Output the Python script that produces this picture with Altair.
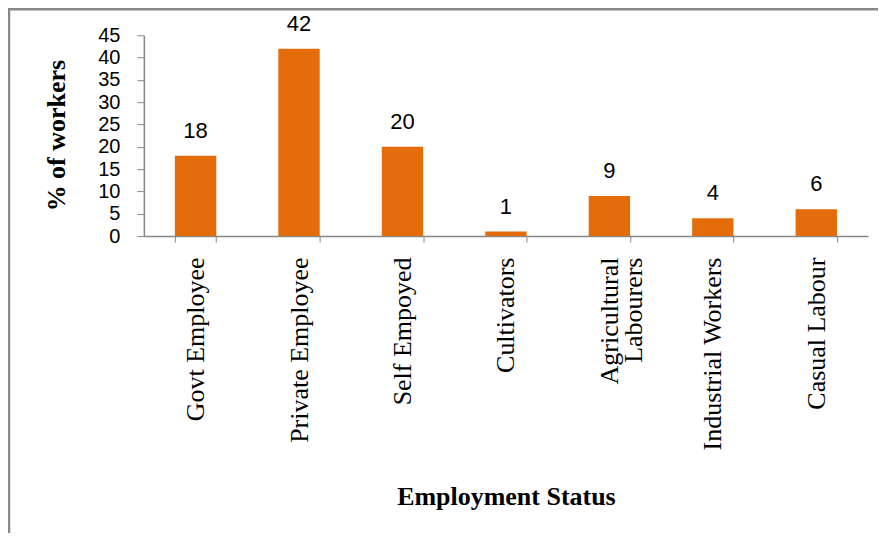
import altair as alt
import pandas as pd

categories = ["Govt Employee", "Private Employee", "Self Empoyed", "Cultivators",
              "Agricultural|Labourers", "Industrial Workers", "Casual Labour"]
values = [18, 42, 20, 1, 9, 4, 6]
y_ticks = [0, 5, 10, 15, 20, 25, 30, 35, 40, 45]

df = pd.DataFrame({"cat": categories, "val": values})

W, H = 725, 201
BAR = "#E46C0A"
GRAY = "#888888"

x = alt.X("cat:N", sort=categories,
          scale=alt.Scale(paddingInner=0.6, paddingOuter=0.3),
          axis=alt.Axis(title="Employment Status", labelAngle=270,
                        labelFont="Liberation Serif", labelFontSize=26,
                        labelColor="#000000", labelPadding=15, labelLimit=400,
                        labelExpr="split(datum.label, '|')", labelLineHeight=24,
                        labelOverlap=False,
                        tickBand="extent", tickSize=6, tickColor=GRAY,
                        domainColor=GRAY, domainWidth=1.5,
                        titleFont="Liberation Serif", titleFontSize=26,
                        titleFontWeight="bold", titleColor="#000000",
                        titleY=269, titleBaseline="alphabetic"))
y = alt.Y("val:Q", scale=alt.Scale(domain=[0, 45], nice=False, zero=True),
          axis=alt.Axis(title="% of workers", values=y_ticks, tickCount=10, grid=False,
                        labelFont="Liberation Sans", labelFontSize=20,
                        labelColor="#000000", labelPadding=17,
                        labelOverlap=False, labelFlush=False,
                        tickSize=7, tickColor=GRAY, domainColor=GRAY, domainWidth=1.5,
                        titleFont="Liberation Serif", titleFontSize=26,
                        titleFontWeight="bold", titleColor="#000000",
                        titleAngle=270, titleX=-87, titleY=100,
                        titleBaseline="middle", titleAlign="center"))

bars = alt.Chart(df).mark_bar(color=BAR).encode(x=x, y=y)
labels = alt.Chart(df).mark_text(font="Liberation Sans", fontSize=22, color="#000000",
                                 baseline="alphabetic", dy=-18).encode(
    x=x, y=y, text="val:Q")

frame_src = alt.Data(values=[{"k": 1}])
left_border = alt.Chart(frame_src).mark_rule(color=GRAY, strokeWidth=2.5).encode(
    x=alt.value(-135), y=alt.value(-27), y2=alt.value(540))
top_border = alt.Chart(frame_src).mark_rule(color=GRAY, strokeWidth=2.5).encode(
    x=alt.value(-136), x2=alt.value(W + 20), y=alt.value(-26))

chart = alt.layer(bars, labels, left_border, top_border).properties(
    width=W, height=H,
    background="white",
    autosize=alt.AutoSizeParams(type="none"),
    padding={"left": 136, "top": 27, "right": 10, "bottom": 297},
).configure_view(stroke=None)

chart.save("out.html", embed_options={"renderer": "svg", "actions": False})
